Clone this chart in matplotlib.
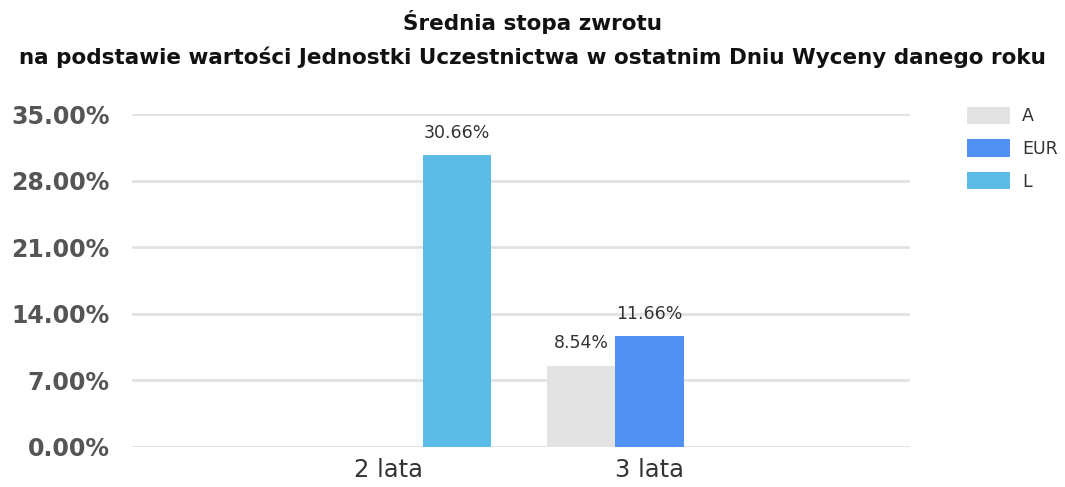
import matplotlib.pyplot as plt
import numpy as np
from matplotlib.patches import Patch

# Średnia stopa zwrotu per okres, w procentach (None = brak danych)
categories = ["2 lata", "3 lata"]
series_names = ["A", "EUR", "L"]
values_a = [None, 8.54]
values_eur = [None, 11.66]
values_l = [30.66, None]
yticks = [0, 7, 14, 21, 28, 35]

colors = {"A": "#e3e3e3", "EUR": "#5291f4", "L": "#5bbce8"}

fig = plt.figure(figsize=(10.65, 4.87), dpi=100)
ax = fig.add_axes([132 / 1065, 1 - 447 / 487, 778 / 1065, 333 / 487])

x = np.arange(len(categories))
width = 0.262
series = {"A": values_a, "EUR": values_eur, "L": values_l}

for i, name in enumerate(series_names):
    offset = (i - 1) * width
    for xi, v in zip(x, series[name]):
        if v is None:
            continue
        ax.bar(xi + offset, v, width=width, color=colors[name], zorder=3)
        ax.text(xi + offset, v + 1.4, f"{v:.2f}%", ha="center", va="bottom",
                fontsize=12.5, color="#333333", zorder=4)

ax.set_xlim(-0.985, 2.0)
ax.set_ylim(0, 35)
ax.set_yticks(yticks)
ax.set_yticklabels([f"{t:.2f}%" for t in yticks], fontsize=17,
                   fontweight="bold", color="#555555")
ax.set_xticks(x)
ax.set_xticklabels(categories, fontsize=17.5, color="#333333")
ax.tick_params(axis="y", length=0, pad=16)
ax.tick_params(axis="x", length=0, pad=8)
ax.yaxis.grid(True, color="#e2e2e2", linewidth=2, zorder=0)
ax.set_axisbelow(True)
for sp in ax.spines.values():
    sp.set_visible(False)

fig.text(0.5, 1 - 22 / 487, "Średnia stopa zwrotu", ha="center", va="center",
         fontsize=15.5, fontweight="bold", color="#111111")
fig.text(0.5, 1 - 57 / 487,
         "na podstawie wartości Jednostki Uczestnictwa w ostatnim Dniu Wyceny danego roku",
         ha="center", va="center", fontsize=15.5, fontweight="bold", color="#111111")

handles = [Patch(facecolor=colors[n], edgecolor="none", label=n) for n in series_names]
leg = fig.legend(handles=handles, loc="upper left", bbox_to_anchor=(951 / 1065, 1 - 91 / 487),
                 frameon=False, fontsize=12.5, handlelength=2.5, handleheight=1.15,
                 labelspacing=0.82, handletextpad=0.7)
for t in leg.get_texts():
    t.set_color("#333333")

fig.savefig("out.png", dpi=100)
